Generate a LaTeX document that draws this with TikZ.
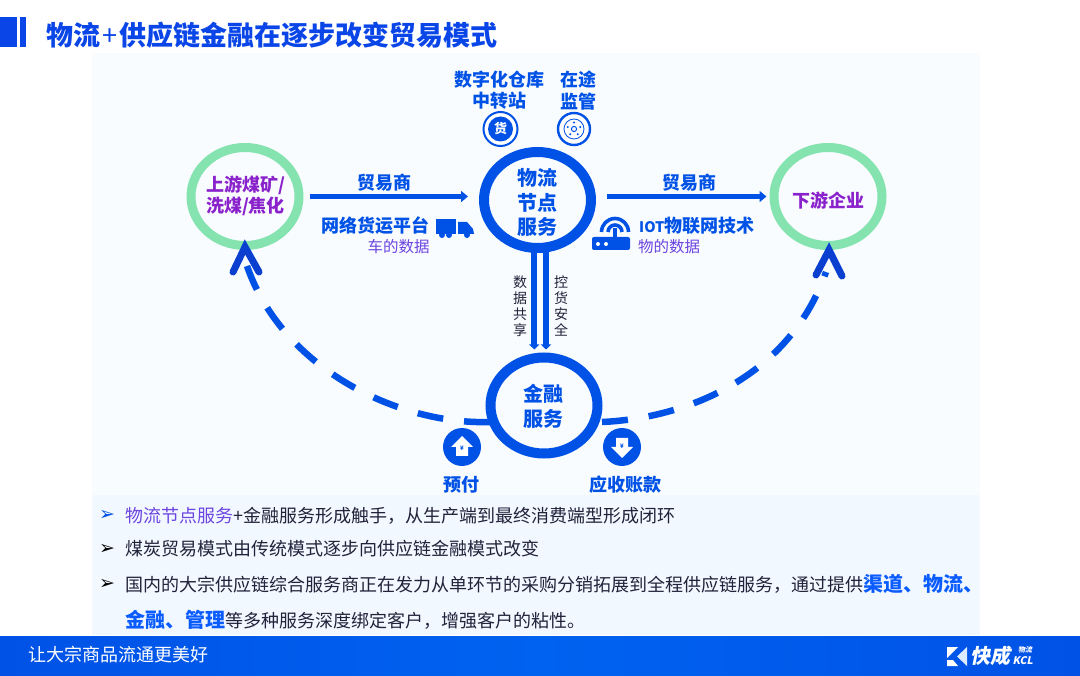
\documentclass[tikz,border=0pt]{standalone}
\usepackage{fontspec}
\usetikzlibrary{arrows.meta,shapes.geometric,calc}
\setmainfont{Noto Sans CJK SC}
\newfontfamily\dingfont{DejaVu Sans}
\definecolor{kblue}{HTML}{0052E6}
\definecolor{kbright}{HTML}{0062F0}
\definecolor{ktitle}{HTML}{0A45E8}
\definecolor{kgreen}{HTML}{84E3AE}
\definecolor{kpurple}{HTML}{8A22CC}
\definecolor{kviolet}{HTML}{6C45E0}
\definecolor{kdark}{HTML}{22223A}
\definecolor{kbold}{HTML}{0A5CFF}
\definecolor{kpanel}{HTML}{F9FCFF}
\definecolor{kpanelb}{HTML}{F2F8FF}
\definecolor{klight}{HTML}{DCEBFF}
\definecolor{knavy}{HTML}{0A3FD0}
\newcommand{\fs}[2]{\fontsize{#1}{#2}\selectfont}
\tikzset{
  hub/.style={ellipse,draw=kblue,line width=10pt,minimum width=107pt,minimum height=96pt,inner sep=0pt},
  hubtext/.style={inner sep=0pt,text=kblue,align=center,font=\fs{20}{24.5}\bfseries},
  end/.style={ellipse,draw=kgreen,line width=9pt,minimum width=108pt,minimum height=98pt,inner sep=0pt},
  endtext/.style={inner sep=0pt,align=center,font=\fs{18}{21.5}\bfseries,text=kpurple},
  flow/.style={draw=kblue,line width=5pt,-{Stealth[length=7pt,width=11pt,inset=0pt]}},
  pipe/.style={draw=kblue,line width=6pt,-{Stealth[length=5pt,width=10pt,inset=0pt]}},
  loop/.style={draw=kblue,line width=6.5pt,dash pattern=on 26pt off 21pt},
  chevron/.style={draw=knavy,line width=7pt,line cap=round,miter limit=10},
  lab/.style={text=kblue,font=\fs{18}{21.5}\bfseries,inner sep=0pt,align=center},
  sublab/.style={text=kviolet,font=\fs{15.5}{18},inner sep=0pt},
  vlab/.style={text=kdark,font=\fs{14}{15.8},inner sep=0pt,align=center},
  body/.style={text=kdark,font=\fs{18}{22},anchor=base west,inner sep=0pt},
  bul/.style={font=\dingfont\fs{19}{21},inner sep=0pt},
  icon/.style={circle,fill=kblue,inner sep=0pt,minimum size=38pt}
}
\begin{document}
\begin{tikzpicture}[x=1pt,y=-1pt]
\useasboundingbox (0,0) rectangle (1080,676);
\fill[white] (0,0) rectangle (1080,676);
\fill[kpanel] (92,53) rectangle (980,495);
\fill[kpanelb] (92,495) rectangle (980,635);
% title
\fill[ktitle] (0,17) rectangle (17,47);
\fill[ktitle] (20,17) rectangle (26,47);
\node[anchor=west,inner sep=0pt,text=ktitle,font=\fs{27}{32}\bfseries] (title) at (46,35) {物流\kern2pt{\mdseries+}\kern2pt供应链金融在逐步改变贸易模式};
% footer
\shade[left color=kblue,right color=kblue,middle color=kbright] (0,636) rectangle (1080,675);
\node[anchor=west,inner sep=0pt,text=white,font=\fs{18}{22}] (slogan) at (28,655) {让大宗商品流通更美好};
% logo
\fill[white] (947,647) -- (958,647) -- (947,658) -- cycle;
\fill[white] (947,660) -- (953,660) -- (958,666) -- (947,666) -- cycle;
\fill[klight] (967,647) -- (967,666) -- (957,656.5) -- cycle;
\node[inner sep=0pt,text=white,font=\fs{20}{22}\bfseries,xslant=0.2] (lgA) at (992,656) {快成};
\node[inner sep=0pt,text=white,align=center,font=\bfseries,xslant=0.2] (lgB) at (1024.5,655.5) {{\fs{7}{11}物流}\\{\fs{10.5}{12}KCL}};
% main nodes
\node[end] (up) at (245,196.5) {};
\node[endtext] (upT) at (245.5,196) {上游煤矿/\\洗煤/焦化};
\node[end] (down) at (828,196.5) {};
\node[endtext] (downT) at (828,201) {下游企业};
\node[hub] (wl) at (537.5,200) {};
\node[hubtext] (wlT) at (537.5,202.5) {物流\\节点\\服务};
\node[hub] (fin) at (544,405.5) {};
\node[hubtext] (finT) at (543.5,406.5) {金融\\服务};
% straight flows
\draw[flow,shorten <=6pt,shorten >=11pt] (up.east) -- (up.east -| wl.west);
\draw[flow,shorten <=11pt,shorten >=3pt] (up.east -| wl.east) -- (up.east -| down.west);
\coordinate (wlA) at ($(wl.south)+(-3.2,-2)$);
\coordinate (wlB) at ($(wl.south)+(8.5,-2)$);
\draw[pipe,shorten >=3pt] (wlA) -- (wlA |- fin.north);
\draw[pipe,shorten >=3pt] (wlB) -- (wlB |- fin.north);
% dashed loops
\coordinate (finL) at (490,422);
\coordinate (finR) at (602,422);
\coordinate (tipL) at ($(up.south)+(0,-3)$);
\coordinate (tipR) at ($(down.south)+(1,0)$);
\coordinate (endL) at ($(tipL)+(2,19)$);
\coordinate (endR) at ($(tipR)+(-3,22)$);
\draw[loop] (finL) .. controls (400,425) and (283,370) .. (endL);
\draw[loop] (finR) .. controls (690,418) and (790,375) .. (endR);
\draw[chevron] ($(tipL)+(-12,25)$) -- (tipL) -- ($(tipL)+(14,25)$);
\draw[chevron] ($(tipR)+(-13,25)$) -- (tipR) -- ($(tipR)+(13,26)$);
% labels
\node[lab] (l1) at (384,182.5) {贸易商};
\node[lab] (l2) at (689,182.5) {贸易商};
\node[lab] (l3) at (375.5,226) {网络货运平台};
\node[sublab] (l4) at (398.5,247) {车的数据};
\node[lab,anchor=west] (l5) at (639,226) {{\fs{14.5}{21.5}IOT}物联网技术};
\node[sublab,anchor=west] (l6) at (638,247) {物的数据};
\node[lab] (l7) at (499,90.3) {数字化仓库\\中转站};
\node[lab] (l8) at (578,90.3) {在途\\监管};
\node[vlab] (l9) at (520,306) {数\\据\\共\\享};
\node[vlab] (l10) at (561,306) {控\\货\\安\\全};
\node[lab] (l11) at (461,485) {预付};
\node[lab] (l12) at (625.5,485) {应收账款};
% icons top
\node[circle,draw=kblue,line width=2pt,fill=white,minimum size=34pt,inner sep=0pt] (ic1) at (500.5,129) {};
\node[circle,fill=kblue,minimum size=25pt,inner sep=0pt,text=white,font=\fs{13}{14}\bfseries] (ic1b) at (500.5,129) {货};
\node[circle,draw=kblue,line width=2.4pt,fill=white,minimum size=32pt,inner sep=0pt] (ic2) at (574,129) {};
\node[circle,draw=kblue,line width=.8pt,minimum size=20pt,inner sep=0pt] (ic2b) at (574,129) {};
\draw[kblue,line width=1pt] (574,129) circle (2.6pt);
\foreach \a in {90,162,234,306,18} \fill[kblue] (574,129) ++(\a:6.5pt) circle (1.1pt);
% truck
\fill[kblue] (436,219) rectangle (456,234);
\fill[kblue] (458,222) -- (467,222) -- (473,229) -- (474,234) -- (458,234) -- cycle;
\fill[kblue] (442,235) circle (3pt) (449,235) circle (3pt) (467,235) circle (3pt);
% router
\fill[kblue,rounded corners=2pt] (592,237) rectangle (630,250);
\fill[white] (598,244) circle (2pt) (606,244) circle (2pt);
\draw[kblue,line width=3.6pt] (615,237) -- (615,228);
\draw[kblue,line width=3.6pt] (601.5,232) arc[start angle=180,end angle=0,radius=13.5pt];
\draw[kblue,line width=3.6pt] (608,232) arc[start angle=180,end angle=0,radius=7pt];
% money icons
\node[icon] (ic3) at (462,447) {};
\fill[white] (462,436) -- (473,447) -- (468,447) -- (468,456) -- (456,456) -- (456,447) -- (451,447) -- cycle;
\node[inner sep=0pt,text=kblue,font=\fs{6}{7}\bfseries] (y1) at (462,448) {¥};
\node[icon] (ic4) at (622,447) {};
\fill[white] (622,458) -- (611,447) -- (616,447) -- (616,438) -- (628,438) -- (628,447) -- (633,447) -- cycle;
\node[inner sep=0pt,text=kblue,font=\fs{6}{7}\bfseries] (y2) at (622,446) {¥};
% bullets
\node[bul,text=kblue] (b1) at (107,515) {➢};
\node[bul,text=black] (b2) at (107,549) {➢};
\node[bul,text=black] (b3) at (107,584) {➢};
% body
\node[body] (t1) at (125,522) {\textcolor{kviolet}{物流节点服务}+金融服务形成触手，从生产端到最终消费端型形成闭环};
\node[body] (t2) at (125,555) {煤炭贸易模式由传统模式逐步向供应链金融模式改变};
\node[body] (t3) at (125,591) {国内的大宗供应链综合服务商正在发力从单环节的采购分销拓展到全程供应链服务，通过提供{\fs{20}{22}\bfseries\textcolor{kbold}{渠道、物流、}}};
\node[body] (t4) at (125,627) {{\fs{20}{22}\bfseries\textcolor{kbold}{金融、管理}}等多种服务深度绑定客户，增强客户的粘性。};
\end{tikzpicture}
\end{document}
